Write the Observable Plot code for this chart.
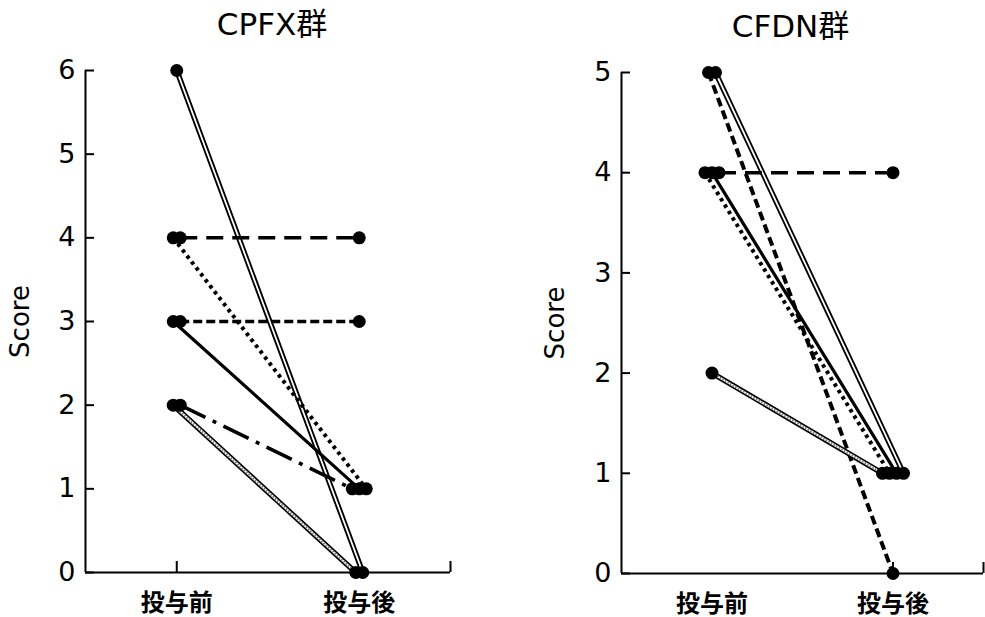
<!DOCTYPE html>
<html>
<head>
<meta charset="utf-8">
<script src="https://cdn.jsdelivr.net/npm/d3@7"></script>
<script src="https://cdn.jsdelivr.net/npm/@observablehq/plot@0.6"></script>
<style>
  html, body { margin: 0; padding: 0; background: #fff; }
  #wrap { display: flex; width: 985px; height: 617px; }
</style>
</head>
<body>
<div id="wrap"></div>
<script>
// ---------------- data ----------------
const categories = ["投与前", "投与後"];
const titles = ["CPFX群", "CFDN群"];
const yLabel = "Score";

const cpfxBefore = [6, 4, 4, 3, 3, 2, 2];
const cpfxAfter  = [0, 4, 1, 3, 1, 1, 0];
const cpfxTicks  = [0, 1, 2, 3, 4, 5, 6];

const cfdnBefore = [5, 5, 4, 4, 4, 2];
const cfdnAfter  = [1, 0, 4, 1, 1, 1];
const cfdnTicks  = [0, 1, 2, 3, 4, 5];

// ---------------- presentation ----------------
const cpfxLineTypes = ["double", "longdash", "dotted", "shortdash", "solid", "dashdot", "hatched"];
const cfdnLineTypes = ["double", "heavydash", "longdash", "dotted", "solid", "hatched"];

const lineStyles = {
  solid:     [{stroke: "#000", strokeWidth: 3.2}],
  longdash:  [{stroke: "#000", strokeWidth: 3.5, strokeDasharray: "17,9", strokeLinecap: "butt"}],
  shortdash: [{stroke: "#000", strokeWidth: 3.5, strokeDasharray: "9,4", strokeLinecap: "butt"}],
  heavydash: [{stroke: "#000", strokeWidth: 4, strokeDasharray: "9,4.5", strokeLinecap: "butt"}],
  dotted:    [{stroke: "#000", strokeWidth: 4, strokeDasharray: "3.5,4", strokeLinecap: "butt"}],
  dashdot:   [{stroke: "#000", strokeWidth: 3.5, strokeDasharray: "28,8,4,8", strokeLinecap: "butt"}],
  double:    [{stroke: "#000", strokeWidth: 5.5}, {stroke: "#fff", strokeWidth: 1.8}],
  hatched:   [{stroke: "#000", strokeWidth: 5.5}, {stroke: "#fff", strokeWidth: 2.2},
              {stroke: "#777", strokeWidth: 2.2, strokeDasharray: "1.5,1.5", strokeLinecap: "butt"}]
};

const FONT = "'DejaVu Sans', 'Noto Sans CJK JP', sans-serif";
const CJK = "'Noto Sans CJK JP', sans-serif";

function buildPoints(before, after, pxPerUnit) {
  const pts = [];
  before.forEach((b, i) => {
    pts.push({id: i, t: 0, v: b, other: after[i]});
    pts.push({id: i, t: 1, v: after[i], other: b});
  });
  const groups = d3.group(pts, d => d.t + ":" + d.v);
  const gap = 7 / pxPerUnit;
  for (const g of groups.values()) {
    g.sort((a, b) => a.other - b.other || a.id - b.id);
    g.forEach((p, k) => { p.x = p.t + (k - (g.length - 1) / 2) * gap; });
  }
  return pts;
}

function panel({title, before, after, types, ticks, width, ml, mr, mt, mb, xTickMarks, titleDx, labelDx}) {
  const height = 617;
  const pxPerUnit = (width - ml - mr) / 2;
  const pts = buildPoints(before, after, pxPerUnit);
  const ymax = d3.max(ticks);
  const lineMarks = [];
  types.forEach((type, i) => {
    const seg = pts.filter(p => p.id === i).sort((a, b) => a.t - b.t);
    for (const s of lineStyles[type]) {
      lineMarks.push(Plot.line(seg, {x: "x", y: "v", ...s}));
    }
  });
  return Plot.plot({
    width, height,
    marginLeft: ml, marginRight: mr, marginTop: mt, marginBottom: mb,
    style: {fontFamily: FONT, color: "#000", background: "#fff", overflow: "visible"},
    x: {type: "linear", domain: [-0.5, 1.5]},
    y: {domain: [0, ymax]},
    marks: [
      Plot.ruleX([-0.5], {y1: 0, y2: ymax, stroke: "#000", strokeWidth: 2}),
      Plot.ruleY([0], {x1: -0.5, x2: 1.5, stroke: "#000", strokeWidth: 2}),
      Plot.axisY({ticks, tickSize: 9, dx: 9, tickPadding: 10, fontSize: 27,
                  tickFormat: d => String(d), label: null, strokeWidth: 2}),
      Plot.axisX({ticks: xTickMarks, tickSize: 11, dy: -11, tickFormat: () => "",
                  label: null, strokeWidth: 2}),
      Plot.axisX({ticks: [0, 1], tickSize: 0, tickPadding: 21, fontSize: 24,
                  fontWeight: "bold", fontFamily: CJK,
                  tickFormat: d => categories[d], label: null}),
      ...lineMarks,
      Plot.dot(pts, {x: "x", y: "v", r: 6.5, fill: "#000"}),
      Plot.text([title], {frameAnchor: "top", dy: -45, dx: titleDx, lineAnchor: "middle", fontSize: 31}),
      Plot.text([yLabel], {frameAnchor: "left", textAnchor: "middle", rotate: -90, dx: labelDx, fontSize: 26})
    ]
  });
}

const wrap = document.getElementById("wrap");
wrap.appendChild(panel({
  title: titles[0], before: cpfxBefore, after: cpfxAfter, types: cpfxLineTypes, ticks: cpfxTicks,
  width: 490, ml: 85, mr: 40, mt: 70, mb: 45, xTickMarks: [0, 1, 1.5], titleDx: 4, labelDx: -65
}));
wrap.appendChild(panel({
  title: titles[1], before: cfdnBefore, after: cfdnAfter, types: cfdnLineTypes, ticks: cfdnTicks,
  width: 495, ml: 131, mr: 2, mt: 72, mb: 44, xTickMarks: [1, 1.5], titleDx: -12, labelDx: -66
}));
</script>
</body>
</html>
